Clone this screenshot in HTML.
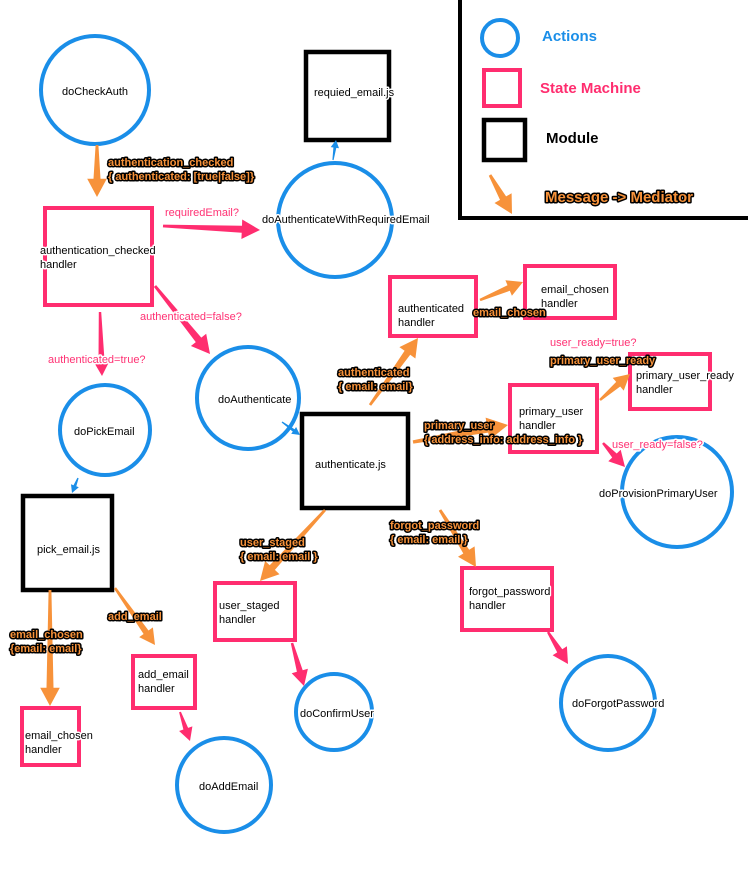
<!DOCTYPE html>
<html><head><meta charset="utf-8"><style>
html,body{margin:0;padding:0;background:#fff;}
svg{display:block;}
text{font-family:"Liberation Sans",sans-serif;font-size:11px;}
.n{fill:#000;stroke:#fff;stroke-width:3px;paint-order:stroke;stroke-linejoin:round;}
.o{fill:#f7923a;stroke:#000;stroke-width:3px;paint-order:stroke;font-weight:bold;stroke-linejoin:round;}
.p{fill:#ff3173;stroke:#fff;stroke-width:3px;paint-order:stroke;stroke-linejoin:round;}
.c{fill:none;stroke:#1a8ee8;stroke-width:4;}
.r{fill:none;stroke:#ff2d6f;stroke-width:4;}
.k{fill:none;stroke:#000;stroke-width:4.5;}
</style></head><body>
<svg id="s" width="748" height="884" viewBox="0 0 748 884" xmlns="http://www.w3.org/2000/svg">
<rect x="460" y="-4" width="292" height="222" fill="none" stroke="#000" stroke-width="4"/>
<circle class="c" cx="500" cy="38" r="18"/>
<rect class="r" x="484" y="70" width="36" height="36"/>
<rect class="k" x="484" y="120" width="41" height="40"/>
<text x="542" y="41" style="font-size:15px;font-weight:bold;fill:#1a8ee8">Actions</text>
<text x="540" y="93" style="font-size:15px;font-weight:bold;fill:#ff2d6f">State Machine</text>
<text x="546" y="143" style="font-size:15px;font-weight:bold;fill:#000">Module</text>
<text class="o" x="545" y="202" style="font-size:15px">Message -&gt; Mediator</text>

<circle class="c" cx="95" cy="90" r="54"/>
<circle class="c" cx="335" cy="220" r="57"/>
<circle class="c" cx="248" cy="398" r="51"/>
<circle class="c" cx="105" cy="430" r="45"/>
<circle class="c" cx="677" cy="492" r="55"/>
<circle class="c" cx="334" cy="712" r="38"/>
<circle class="c" cx="608" cy="703" r="47"/>
<circle class="c" cx="224" cy="785" r="47"/>

<rect class="k" x="306" y="52" width="83" height="88"/>
<rect class="k" x="302" y="414" width="106" height="94"/>
<rect class="k" x="23" y="496" width="89" height="94"/>

<rect class="r" x="45" y="208" width="107" height="97"/>
<rect class="r" x="390" y="277" width="86" height="59"/>
<rect class="r" x="525" y="266" width="90" height="52"/>
<rect class="r" x="510" y="385" width="87" height="67"/>
<rect class="r" x="630" y="354" width="80" height="55"/>
<rect class="r" x="215" y="583" width="80" height="57"/>
<rect class="r" x="462" y="568" width="90" height="62"/>
<rect class="r" x="133" y="656" width="62" height="52"/>
<rect class="r" x="22" y="708" width="57" height="57"/>

<g id="arrows"></g>

<text class="n" x="62" y="95">doCheckAuth</text>
<text class="n" x="262" y="223">doAuthenticateWithRequiredEmail</text>
<text class="n" x="314" y="96">requied_email.js</text>
<text class="n" x="40" y="254">authentication_checked</text>
<text class="n" x="40" y="268">handler</text>
<text class="n" x="218" y="403">doAuthenticate</text>
<text class="n" x="74" y="435">doPickEmail</text>
<text class="n" x="37" y="553">pick_email.js</text>
<text class="n" x="398" y="312">authenticated</text>
<text class="n" x="398" y="326">handler</text>
<text class="n" x="541" y="293">email_chosen</text>
<text class="n" x="541" y="307">handler</text>
<text class="n" x="519" y="415">primary_user</text>
<text class="n" x="519" y="429">handler</text>
<text class="n" x="636" y="379">primary_user_ready</text>
<text class="n" x="636" y="393">handler</text>
<text class="n" x="315" y="468">authenticate.js</text>
<text class="n" x="599" y="497">doProvisionPrimaryUser</text>
<text class="n" x="219" y="609">user_staged</text>
<text class="n" x="219" y="623">handler</text>
<text class="n" x="469" y="595">forgot_password</text>
<text class="n" x="469" y="609">handler</text>
<text class="n" x="138" y="678">add_email</text>
<text class="n" x="138" y="692">handler</text>
<text class="n" x="25" y="739">email_chosen</text>
<text class="n" x="25" y="753">handler</text>
<text class="n" x="300" y="717">doConfirmUser</text>
<text class="n" x="572" y="707">doForgotPassword</text>
<text class="n" x="199" y="790">doAddEmail</text>

<text class="o" x="108" y="166">authentication_checked</text>
<text class="o" x="108" y="180">{ authenticated: [true|false]}</text>
<text class="o" x="338" y="376">authenticated</text>
<text class="o" x="338" y="390">{ email: email}</text>
<text class="o" x="473" y="316">email_chosen</text>
<text class="o" x="424" y="429">primary_user</text>
<text class="o" x="424" y="443">{ address_info: address_info }</text>
<text class="o" x="550" y="364">primary_user_ready</text>
<text class="o" x="240" y="546">user_staged</text>
<text class="o" x="240" y="560">{ email: email }</text>
<text class="o" x="390" y="529">forgot_password</text>
<text class="o" x="390" y="543">{ email: email }</text>
<text class="o" x="10" y="638">email_chosen</text>
<text class="o" x="10" y="652">{email: email}</text>
<text class="o" x="108" y="620">add_email</text>

<text class="p" x="165" y="216">requiredEmail?</text>
<text class="p" x="140" y="320">authenticated=false?</text>
<text class="p" x="48" y="363">authenticated=true?</text>
<text class="p" x="550" y="346">user_ready=true?</text>
<text class="p" x="612" y="448">user_ready=false?</text>
</svg>
<script>
var A=[
[97,145,97,197,'#f7923a',7],[490,175,512,214,'#f7923a',7],
[370,405,418,338,'#f7923a',7],[480,300,523,282,'#f7923a',6],
[413,442,508,425,'#f7923a',8],[600,400,630,374,'#f7923a',6],
[325,510,260,581,'#f7923a',7],[440,510,476,567,'#f7923a',7],
[50,590,50,706,'#f7923a',7],[115,588,155,645,'#f7923a',6],
[163,226,260,230,'#ff2d6f',7],[155,286,210,354,'#ff2d6f',7],
[100,312,102,376,'#ff2d6f',6],[603,443,625,467,'#ff2d6f',6],
[292,643,304,686,'#ff2d6f',6],[548,632,568,664,'#ff2d6f',6],
[180,712,190,741,'#ff2d6f',5],
[333,160,336,140,'#1a8ee8',3],[282,422,300,435,'#1a8ee8',3],[78,478,72,493,'#1a8ee8',3]];
var g=document.getElementById('arrows'),s='';
A.forEach(function(a){var x1=a[0],y1=a[1],x2=a[2],y2=a[3],w=a[5];
var dx=x2-x1,dy=y2-y1,L=Math.sqrt(dx*dx+dy*dy),ux=dx/L,uy=dy/L,px=-uy,py=ux;
var hl=Math.min(w*2.6,L*0.5),hw=w*1.4;
var bx=x2-ux*hl,by=y2-uy*hl;
var pts=[[x1+px*w*0.2,y1+py*w*0.2],[bx+px*w*0.5,by+py*w*0.5],[bx+px*hw,by+py*hw],[x2,y2],[bx-px*hw,by-py*hw],[bx-px*w*0.5,by-py*w*0.5],[x1-px*w*0.2,y1-py*w*0.2]];
s+='<polygon fill="'+a[4]+'" points="'+pts.map(function(p){return p[0].toFixed(1)+','+p[1].toFixed(1)}).join(' ')+'"/>';});
g.innerHTML=s;
</script>
</body></html>
